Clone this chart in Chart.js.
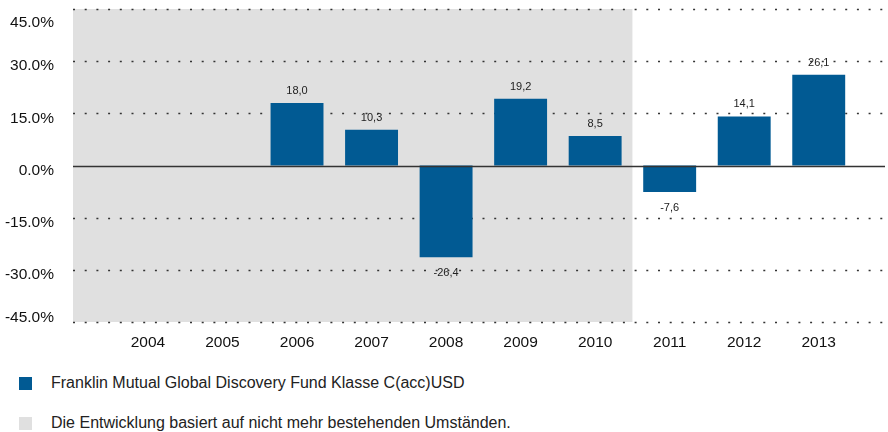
<!DOCTYPE html>
<html>
<head>
<meta charset="utf-8">
<script src="https://cdn.jsdelivr.net/npm/chart.js@4"></script>
<style>
  body { margin: 0; background: #fff; font-family: "Liberation Sans", Arial, sans-serif; }
  #wrap { position: relative; width: 888px; height: 432px; }
  #chartBox { position: absolute; left: 0; top: 0; width: 888px; height: 360px; }
  .legend { position: absolute; left: 19px; font-size: 16px; color: #222; }
  .legend span.sw { position: absolute; left: 0; width: 13px; height: 13px; }
  .legend span.txt { position: absolute; left: 32px; white-space: nowrap; line-height: 16px; }
</style>
</head>
<body>
<div id="wrap">
  <div id="chartBox"><canvas id="fundChart"></canvas></div>
  <div class="legend" style="top:377px"><span class="sw" style="background:#015a93"></span><span class="txt" style="top:-2px">Franklin Mutual Global Discovery Fund Klasse C(acc)USD</span></div>
  <div class="legend" style="top:417px"><span class="sw" style="background:#e0e0e0"></span><span class="txt" style="top:-2px">Die Entwicklung basiert auf nicht mehr bestehenden Umständen.</span></div>
</div>
<script>
const years = ['2004', '2005', '2006', '2007', '2008', '2009', '2010', '2011', '2012', '2013'];
const returns = [null, null, 18.0, 10.3, -26.4, 19.2, 8.5, -7.6, 14.1, 26.1];
const yTicks = [-45, -30, -15, 0, 15, 30, 45];
const shadedYears = ['2004', '2005', '2006', '2007', '2008', '2009', '2010'];

const barColor = '#015a93';
const shadeColor = '#e0e0e0';
const gridLeft = 73, gridRight = 885;

// grey background + dotted grid, drawn wider than the chart area
const backdrop = {
  id: 'backdrop',
  beforeDatasetsDraw(chart) {
    const ctx = chart.ctx;
    const x = chart.scales.x, y = chart.scales.y;
    const lastShaded = years.indexOf(shadedYears[shadedYears.length - 1]);
    const shadeRight = (x.getPixelForValue(lastShaded) + x.getPixelForValue(lastShaded + 1)) / 2;
    const top = y.getPixelForValue(45), bottom = y.getPixelForValue(-45);
    ctx.save();
    ctx.fillStyle = shadeColor;
    ctx.fillRect(gridLeft, top, shadeRight - gridLeft, bottom - top);
    ctx.strokeStyle = '#333';
    ctx.lineWidth = 1.4;
    ctx.setLineDash([2, 9.7]);
    yTicks.forEach(v => {
      if (v === 0) return;
      const py = Math.round(y.getPixelForValue(v)) + 0.5;
      ctx.beginPath();
      ctx.moveTo(gridLeft, py);
      ctx.lineTo(gridRight, py);
      ctx.stroke();
    });
    ctx.restore();
  },
  afterDatasetsDraw(chart) {
    const ctx = chart.ctx;
    const x = chart.scales.x, y = chart.scales.y;
    ctx.save();
    // zero line
    const py = Math.round(y.getPixelForValue(0)) + 0.5;
    ctx.strokeStyle = '#333';
    ctx.lineWidth = 1.3;
    ctx.beginPath();
    ctx.moveTo(gridLeft, py);
    ctx.lineTo(gridRight, py);
    ctx.stroke();

    // y labels, nudged below their lines and kept inside the plot
    ctx.fillStyle = '#111';
    ctx.font = '15.5px "Liberation Sans", Arial, sans-serif';
    ctx.textAlign = 'right';
    ctx.textBaseline = 'middle';
    const top = y.getPixelForValue(45), bottom = y.getPixelForValue(-45);
    y.ticks.forEach(t => {
      let ly = y.getPixelForValue(t.value) + 5;
      ly = Math.max(top + 14, Math.min(bottom - 4, ly));
      ctx.fillText(t.value.toFixed(1) + '%', 54, ly);
    });

    // value labels on the bars
    ctx.fillStyle = '#222';
    ctx.font = '11px "Liberation Sans", Arial, sans-serif';
    ctx.textAlign = 'center';
    const meta = chart.getDatasetMeta(0);
    meta.data.forEach((bar, i) => {
      const v = returns[i];
      if (v === null) return;
      const txt = v.toFixed(1).replace('.', ',');
      const ly = v >= 0 ? bar.y - 12 : bar.y + 16;
      ctx.fillText(txt, bar.x, ly);
    });
    ctx.restore();
  }
};

new Chart(document.getElementById('fundChart'), {
  type: 'bar',
  data: {
    labels: years,
    datasets: [{
      label: 'Franklin Mutual Global Discovery Fund Klasse C(acc)USD',
      data: returns,
      backgroundColor: barColor,
      barPercentage: 0.71,
      categoryPercentage: 1.0
    }]
  },
  options: {
    responsive: true,
    maintainAspectRatio: false,
    animation: false,
    layout: { padding: { top: 9, right: 32, left: 0, bottom: 0 } },
    plugins: { legend: { display: false }, tooltip: { enabled: false } },
    scales: {
      x: {
        grid: { display: false, drawTicks: false },
        border: { display: false },
        ticks: { color: '#111', font: { size: 15.5, family: '"Liberation Sans", Arial, sans-serif' }, padding: 11, maxRotation: 0 },
        afterFit(scale) { scale.height = 38; }
      },
      y: {
        min: -45, max: 45,
        afterBuildTicks(scale) { scale.ticks = yTicks.map(v => ({ value: v })); },
        grid: { display: false },
        border: { display: false },
        ticks: { display: false },
        afterFit(scale) { scale.width = 110.7; }
      }
    }
  },
  plugins: [backdrop]
});
</script>
</body>
</html>
